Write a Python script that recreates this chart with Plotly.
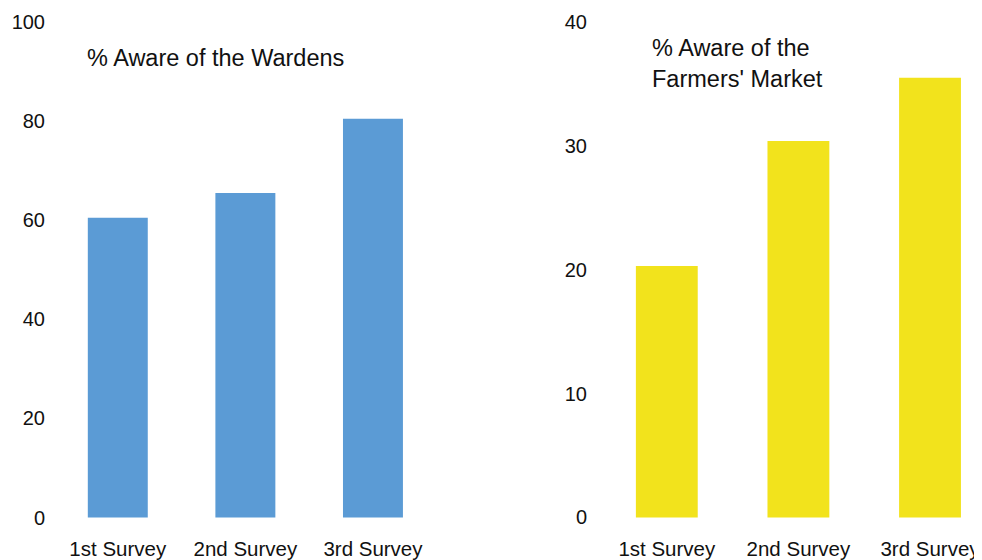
import plotly.graph_objects as go

categories = ["1st Survey", "2nd Survey", "3rd Survey"]
wardens_pct = [60.5, 65.5, 80.5]
market_pct = [20.3, 30.4, 35.5]
wardens_ticks = [0, 20, 40, 60, 80, 100]
market_ticks = [0, 10, 20, 30, 40]
title_left = "% Aware of the Wardens"
title_right = "% Aware of the<br>Farmers' Market"

W, H = 974, 552
FONT = "Liberation Sans, Arial, sans-serif"
BLUE = "#5B9BD5"
YELLOW = "#F2E31C"

fig = go.Figure()
fig.add_trace(go.Bar(x=categories, y=wardens_pct, marker=dict(color=BLUE, line=dict(width=0)),
                     xaxis="x", yaxis="y", showlegend=False))
fig.add_trace(go.Bar(x=categories, y=market_pct, marker=dict(color=YELLOW, line=dict(width=0)),
                     xaxis="x2", yaxis="y2", showlegend=False))

xtickfont = dict(family=FONT, size=20.5, color="#111111")
ytickfont = dict(family=FONT, size=20, color="#111111")
common_x = dict(showgrid=False, zeroline=False, showline=False, ticks="",
                tickfont=xtickfont, automargin=False, ticklabelstandoff=6)
common_y = dict(showgrid=False, zeroline=False, showline=False, ticks="",
                tickfont=ytickfont, automargin=False)

fig.update_layout(
    width=W, height=H,
    margin=dict(l=0, r=0, t=14, b=32),
    paper_bgcolor="white", plot_bgcolor="white",
    bargap=0.53,
    font=dict(family=FONT),
    xaxis=dict(domain=[46 / W, 428.75 / W], range=[-0.5, 2.5], anchor="y", **common_x),
    yaxis=dict(domain=[0, 1], range=[-2.1, 100], tickvals=wardens_ticks,
               ticklabelstandoff=8, anchor="x", **common_y),
    xaxis2=dict(domain=[593 / W, 1], range=[-0.5, 2.395], anchor="y2", **common_x),
    yaxis2=dict(domain=[0, 1], range=[-0.85, 40], tickvals=market_ticks,
                ticklabelstandoff=13, anchor="x2", **common_y),
    annotations=[
        dict(text=title_left, xref="paper", yref="paper", x=77 / W, y=1 - (50 - 14) / 506,
             xanchor="left", yanchor="middle", showarrow=False,
             font=dict(family=FONT, size=23.5, color="#111111")),
        dict(text=title_right, xref="paper", yref="paper", x=642 / W, y=1 - (56 - 14) / 506,
             xanchor="left", yanchor="middle", align="left", showarrow=False,
             font=dict(family=FONT, size=23.5, color="#111111")),
    ],
)

fig.write_html("out.html")
